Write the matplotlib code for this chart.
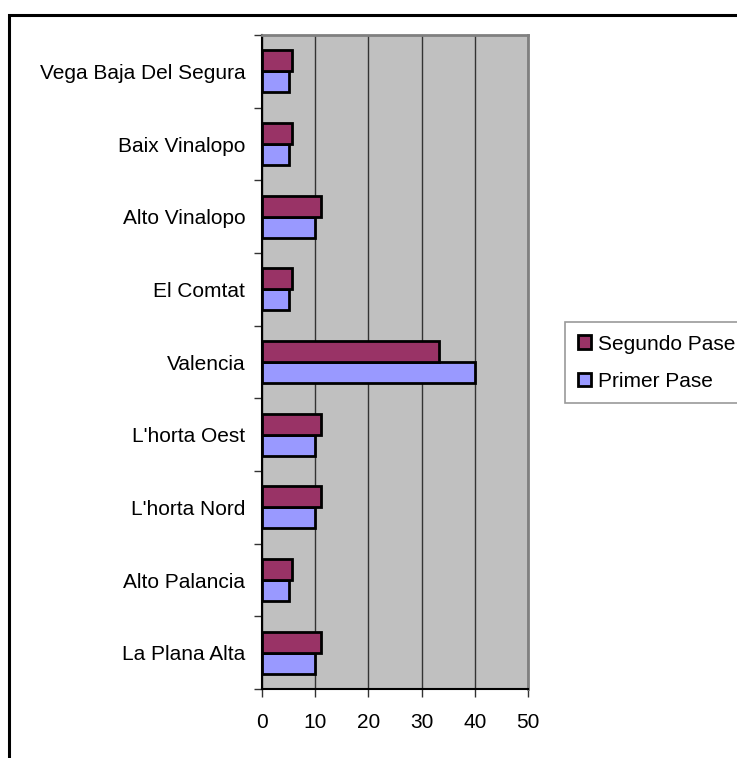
import matplotlib
matplotlib.use("Agg")
import matplotlib.pyplot as plt
from matplotlib.patches import Rectangle

plt.rcParams['font.family'] = ['Liberation Sans', 'DejaVu Sans']

categories = ["La Plana Alta", "Alto Palancia", "L'horta Nord", "L'horta Oest",
              "Valencia", "El Comtat", "Alto Vinalopo", "Baix Vinalopo",
              "Vega Baja Del Segura"]
primer_pase = [10, 5, 10, 10, 40, 5, 10, 5, 5]
segundo_pase = [11.11, 5.56, 11.11, 11.11, 33.33, 5.56, 11.11, 5.56, 5.56]
x_ticks = [0, 10, 20, 30, 40, 50]

W, H = 737, 758
FS = 15
fig = plt.figure(figsize=(W / 100, H / 100), dpi=100)
ax = fig.add_axes([262 / W, 1 - 689 / H, (528 - 262) / W, (689 - 35) / H])
ax.set_facecolor('#C0C0C0')

bar_h = 0.29
ypos = list(range(len(categories)))
ax.barh([y - bar_h / 2 for y in ypos], primer_pase, height=bar_h,
        color='#9999FF', edgecolor='black', linewidth=2, label='Primer Pase', zorder=3)
ax.barh([y + bar_h / 2 for y in ypos], segundo_pase, height=bar_h,
        color='#993366', edgecolor='black', linewidth=2, label='Segundo Pase', zorder=3)

ax.set_xlim(0, 50)
ax.set_ylim(-0.5, len(categories) - 0.5)
ax.set_xticks(x_ticks)
ax.set_xticklabels([str(t) for t in x_ticks], fontsize=FS)
ax.xaxis.grid(True, color='#333333', linewidth=1, zorder=1)
ax.set_axisbelow(True)

# category labels centred on the groups, tick marks on the boundaries
ax.set_yticks([y - 0.5 for y in ypos] + [len(categories) - 0.5])
ax.set_yticklabels([])
ax.set_yticks(ypos, minor=True)
ax.set_yticklabels(categories, minor=True, fontsize=FS)
ax.tick_params(axis='y', which='minor', length=0, pad=12)
ax.tick_params(axis='y', which='major', length=6, width=1, color='#333333')
ax.tick_params(axis='x', which='major', length=6, width=1, pad=11, color='#333333')

for side in ('left', 'bottom'):
    ax.spines[side].set_color('black')
    ax.spines[side].set_linewidth(1.5)
for side in ('top', 'right'):
    ax.spines[side].set_color('#808080')
    ax.spines[side].set_linewidth(2)

handles, labels = ax.get_legend_handles_labels()
leg = fig.legend(handles[::-1], labels[::-1], loc='upper left',
                 bbox_to_anchor=(565 / W, 1 - 322 / H), fontsize=FS,
                 frameon=True, fancybox=False, handlelength=0.65, handleheight=0.65,
                 handletextpad=0.35, borderpad=0.6, labelspacing=0.88,
                 borderaxespad=0)
leg.get_frame().set_edgecolor('#808080')
leg.get_frame().set_linewidth(1.2)

# outer chart frame
fig.patches.append(Rectangle((9 / W, -0.05), 1.1, 1 - 15 / H + 0.05,
                             transform=fig.transFigure, fill=False,
                             edgecolor='black', linewidth=2.2))

fig.savefig('out.png', dpi=100)
